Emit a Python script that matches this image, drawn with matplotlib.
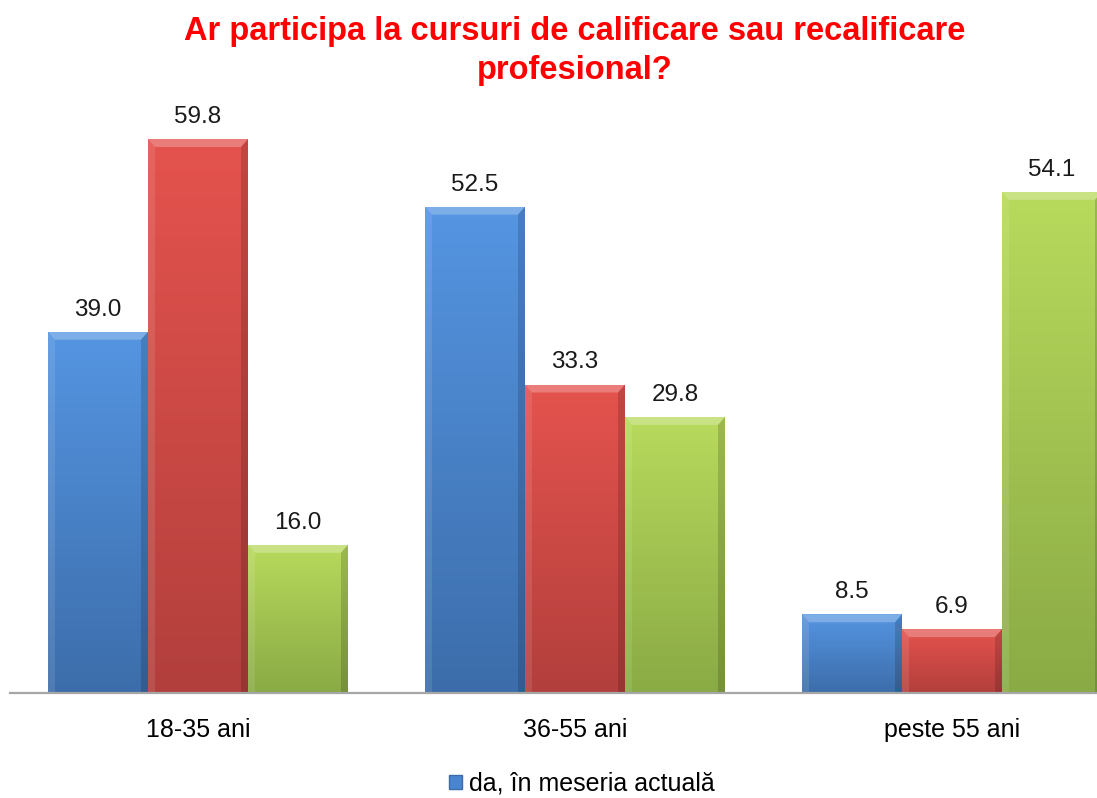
import matplotlib
matplotlib.use("Agg")
import matplotlib.pyplot as plt
import numpy as np
from matplotlib.patches import Polygon, Patch
from matplotlib.colors import LinearSegmentedColormap

plt.rcParams['font.family'] = ['Liberation Sans', 'DejaVu Sans']

title = "Ar participa la cursuri de calificare sau recalificare\nprofesional?"
categories = ["18-35 ani", "36-55 ani", "peste 55 ani"]
series_names = ["da, în meseria actuală", "da, în altă meserie", "nu"]
values_blue = [39.0, 52.5, 8.5]
values_red = [59.8, 33.3, 6.9]
values_green = [16.0, 29.8, 54.1]
series_values = [values_blue, values_red, values_green]

# (top colour, bottom colour) gradients
series_colors = [("#5595E2", "#3C6DAA"), ("#E5534E", "#B23F3C"), ("#B8DA5C", "#8AAA45")]

fig = plt.figure(figsize=(10.97, 7.98), dpi=100)
W, H = 1097, 798
px_per_cat = 377
left_px = 198 - px_per_cat / 2
base_px = 693
px_per_unit = 9.264
ymax = 70
ax = fig.add_axes([left_px / W, (H - base_px) / H, 3 * px_per_cat / W, ymax * px_per_unit / H])
ax.set_xlim(-0.5, 2.5)
ax.set_ylim(0, ymax)

x = np.arange(len(categories))
bw = 100 / px_per_cat
offsets = [-bw, 0, bw]

bev_x = 7 / px_per_cat
bev_y = 8 / px_per_unit

for vals, off, (ctop, cbot), name in zip(series_values, offsets, series_colors, series_names):
    bars = ax.bar(x + off, vals, width=bw, color=cbot, edgecolor='none', label=name, zorder=2)
    cmap = LinearSegmentedColormap.from_list("g", [cbot, ctop])
    for b in bars:
        x0, w, h = b.get_x(), b.get_width(), b.get_height()
        grad = np.linspace(0, 1, 256).reshape(-1, 1)
        im = ax.imshow(grad, extent=[x0, x0 + w, 0, h], origin='lower', cmap=cmap,
                       aspect='auto', zorder=3, interpolation='bicubic')
        im.set_clip_path(b)
        top = Polygon([[x0, h], [x0 + w, h], [x0 + w - bev_x, h - bev_y], [x0 + bev_x, h - bev_y]],
                      closed=True, facecolor='white', alpha=0.25, edgecolor='none', zorder=4)
        lft = Polygon([[x0, 0], [x0, h], [x0 + bev_x, h - bev_y], [x0 + bev_x, 0]],
                      closed=True, facecolor='white', alpha=0.10, edgecolor='none', zorder=4)
        rgt = Polygon([[x0 + w, 0], [x0 + w, h], [x0 + w - bev_x, h - bev_y], [x0 + w - bev_x, 0]],
                      closed=True, facecolor='black', alpha=0.15, edgecolor='none', zorder=4)
        for p in (top, lft, rgt):
            ax.add_patch(p)
        ax.annotate(f"{h:.1f}", (x0 + w / 2, h), xytext=(0, 8), textcoords='offset points',
                    ha='center', va='bottom', fontsize=17.5, color='#1a1a1a', zorder=5)

ax.set_xticks(x)
ax.set_xticklabels(categories, fontsize=18)
ax.tick_params(axis='x', length=0, pad=18)
ax.set_yticks([])
for s in ['top', 'right', 'left']:
    ax.spines[s].set_visible(False)
ax.spines['bottom'].set_color('#A6A6A6')
ax.spines['bottom'].set_linewidth(1.6)
ax.spines['bottom'].set_zorder(6)

fig.text(575 / W, 1 - 51 / H, title, ha='center', va='center', color='#FF0000',
         fontsize=23.5, fontweight='bold', linespacing=1.3)

handles, labels = ax.get_legend_handles_labels()
leg = fig.legend([Patch(facecolor='#4A85CF', edgecolor='#3C6DAA')], [labels[0]],
                 loc='center', bbox_to_anchor=(582 / W, 1 - 784 / H), frameon=False,
                 fontsize=18, handlelength=0.5, handleheight=0.5, handletextpad=0.3,
                 borderpad=0.1)

fig.savefig("out.png", dpi=100)
